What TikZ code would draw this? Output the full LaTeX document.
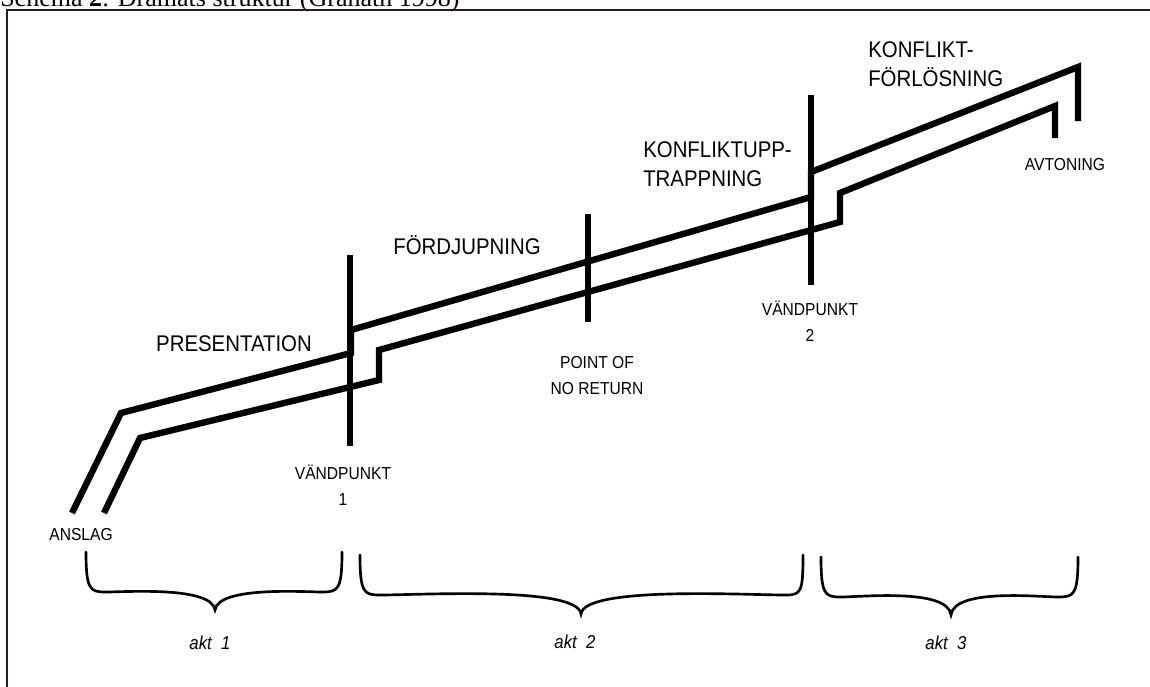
\documentclass[tikz,border=0pt]{standalone}
\usepackage{fontspec}
\setmainfont{Liberation Serif}
\newfontfamily\labfont[FakeStretch=0.9]{Liberation Sans}
\begin{document}
\begin{tikzpicture}[x={(0.75pt,0)}, y={(0,-0.75pt)},
  track/.style={line width=4.8pt, line join=miter, line cap=butt},
  marker/.style={line width=4.5pt},
  brace/.style={line width=2pt, line cap=round},
  big/.style={font=\labfont\fontsize{17}{21.5}\selectfont, inner sep=0pt, align=left},
  small/.style={font=\labfont\fontsize{13}{19.5}\selectfont, inner sep=0pt, align=center},
  act/.style={font=\labfont\itshape\fontsize{14}{16}\selectfont, inner sep=0pt},
  frame/.style={line width=1.1pt, draw={rgb,255:red,45;green,25;blue,25}}]
\useasboundingbox (0,0) rectangle (1150,686);
% frame and caption
\draw[frame] (7,700) -- (7,10) -- (1160,10);
\node[anchor=base west, inner sep=0pt, font=\fontsize{19.5}{22}\selectfont] (caption) at (0,6) {Schema \textbf{2}: Dramats struktur (Granath 1998)};
% upper track
\coordinate (u0) at (72,513);
\coordinate (u1) at (121,413);
\coordinate (u2) at (351,353);
\coordinate (u3) at (351,330);
\coordinate (u4) at (811,197);
\coordinate (u5) at (811,172);
\coordinate (u6) at (1078,67);
\coordinate (u7) at (1078,121);
% lower track
\coordinate (l0) at (104,513);
\coordinate (l1) at (140,438);
\coordinate (l2) at (379,380);
\coordinate (l3) at (379,350);
\coordinate (l4) at (840,222);
\coordinate (l5) at (840,193);
\coordinate (l6) at (1055,106);
\coordinate (l7) at (1055,138);
\draw[track] (u0) -- (u1) -- (u2) -- (u3) -- (u4) -- (u5) -- (u6) -- (u7);
\draw[track] (l0) -- (l1) -- (l2) -- (l3) -- (l4) -- (l5) -- (l6) -- (l7);
% turning point markers
\coordinate (v1t) at (350,255); \coordinate (v1b) at (350,446);
\coordinate (v2t) at (588,214); \coordinate (v2b) at (588,322);
\coordinate (v3t) at (811,95);  \coordinate (v3b) at (811,285);
\draw[marker] (v1t) -- (v1b);
\draw[marker] (v2t) -- (v2b);
\draw[marker] (v3t) -- (v3b);
% labels
\node[big] (presentation) at (234,344) {PRESENTATION};
\node[big] (fordjupning) at (467,245) {FÖRDJUPNING};
\node[big, anchor=west] (upptrappning) at (643,164) {KONFLIKTUPP-\\TRAPPNING};
\node[big, anchor=west] (forlosning) at (868,64) {KONFLIKT-\\FÖRLÖSNING};
\node[small] (avtoning) at (1065,165) {AVTONING};
\node[small] (anslag) at (81,535) {ANSLAG};
\node[small] (vp1) at (343,485) {VÄNDPUNKT\\1};
\node[small] (ponr) at (597,376) {POINT OF\\NO RETURN};
\node[small] (vp2) at (810,321) {VÄNDPUNKT\\2};
% braces
\draw[brace] (86,552) .. controls (86,590) and (90,592) .. (106,592)
  .. controls (125,592) and (212,586) .. (215,610)
  .. controls (218,586) and (305,592) .. (322,592)
  .. controls (338,592) and (342,590) .. (342,552);
\draw[brace] (360,555) .. controls (360,593) and (364,595) .. (380,595)
  .. controls (420,595) and (578,586) .. (581,614)
  .. controls (584,586) and (745,595) .. (785,595)
  .. controls (801,595) and (803,593) .. (803,555);
\draw[brace] (821,557) .. controls (821,595) and (825,597) .. (841,597)
  .. controls (860,597) and (948,588) .. (951,615)
  .. controls (954,588) and (1040,597) .. (1058,597)
  .. controls (1074,597) and (1078,595) .. (1078,557);
\node[act] (akt1) at (210,643) {akt\ \ 1};
\node[act] (akt2) at (575,642) {akt\ \ 2};
\node[act] (akt3) at (946,643) {akt\ \ 3};
\end{tikzpicture}
\end{document}
